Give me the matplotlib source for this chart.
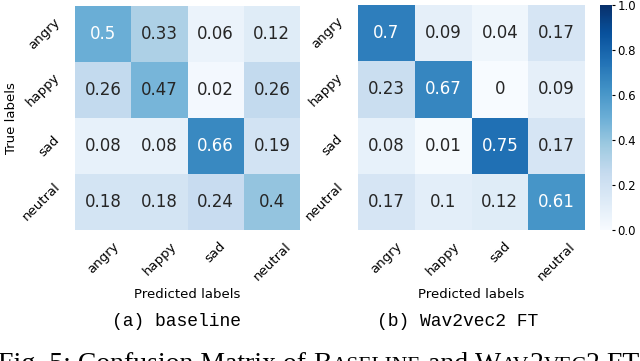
import numpy as np
import matplotlib
matplotlib.use("Agg")
import matplotlib.pyplot as plt
import seaborn as sns

labels = ["angry", "happy", "sad", "neutral"]
baseline_cm = [[0.5, 0.33, 0.06, 0.12],
               [0.26, 0.47, 0.02, 0.26],
               [0.08, 0.08, 0.66, 0.19],
               [0.18, 0.18, 0.24, 0.4]]
w2v_cm = [[0.7, 0.09, 0.04, 0.17],
          [0.23, 0.67, 0.0, 0.09],
          [0.08, 0.01, 0.75, 0.17],
          [0.17, 0.1, 0.12, 0.61]]
cbar_ticks = [0.0, 0.2, 0.4, 0.6, 0.8, 1.0]

fig = plt.figure(figsize=(6.4, 3.61), dpi=100)
ax1 = fig.add_axes([75/640, 1-230/361, 225/640, 224/361])
ax2 = fig.add_axes([358/640, 1-230/361, 227/640, 225/361])
cax = fig.add_axes([600/640, 1-230/361, 12/640, 225/361])

sns.heatmap(np.array(baseline_cm), ax=ax1, cmap="Blues", vmin=0, vmax=1,
            annot=True, fmt="g", annot_kws={"size": 12}, cbar=False,
            xticklabels=labels, yticklabels=labels)
sns.heatmap(np.array(w2v_cm), ax=ax2, cmap="Blues", vmin=0, vmax=1,
            annot=True, fmt="g", annot_kws={"size": 12}, cbar=True, cbar_ax=cax,
            xticklabels=labels, yticklabels=labels)

for ax in (ax1, ax2):
    ax.tick_params(axis="x", length=0, labelsize=9.5, pad=7)
    ax.tick_params(axis="y", length=0, labelsize=9.5, pad=9)
    plt.setp(ax.get_xticklabels(), rotation=45, ha="center")
    plt.setp(ax.get_yticklabels(), rotation=45, ha="right", va="center")
    ax.set_xlabel("Predicted labels", fontsize=9.5, labelpad=4)
ax1.set_ylabel("True labels", fontsize=9.5)
ax1.yaxis.set_label_coords(-0.255, 0.5)

cax.set_yticks(cbar_ticks)
cax.tick_params(labelsize=8.5, length=2.5, pad=1.5)
cbar = ax2.collections[0].colorbar
if cbar is not None:
    cbar.outline.set_visible(False)

fig.text(177/640, 1-322/361, "(a) baseline", family="Liberation Mono",
         fontsize=13, ha="center", va="center")
fig.text(458/640, 1-322/361, "(b) Wav2vec2 FT", family="Liberation Mono",
         fontsize=13, ha="center", va="center")

# bottom caption with small caps, partly cut off
parts = [("Fig. 5: Confusion Matrix of ", 20), ("B", 20), ("ASELINE", 15.5),
         (" and ", 20), ("W", 20), ("AV", 15.5), ("2", 20), ("VEC", 15.5), ("2 FT", 20)]
renderer = fig.canvas.get_renderer()
x = -2
for s, fs in parts:
    t = fig.text(x/640, 1-371/361, s, family="Liberation Serif", fontsize=fs,
                 ha="left", va="baseline")
    bb = t.get_window_extent(renderer)
    x += bb.width

fig.savefig("out.png", dpi=100)
